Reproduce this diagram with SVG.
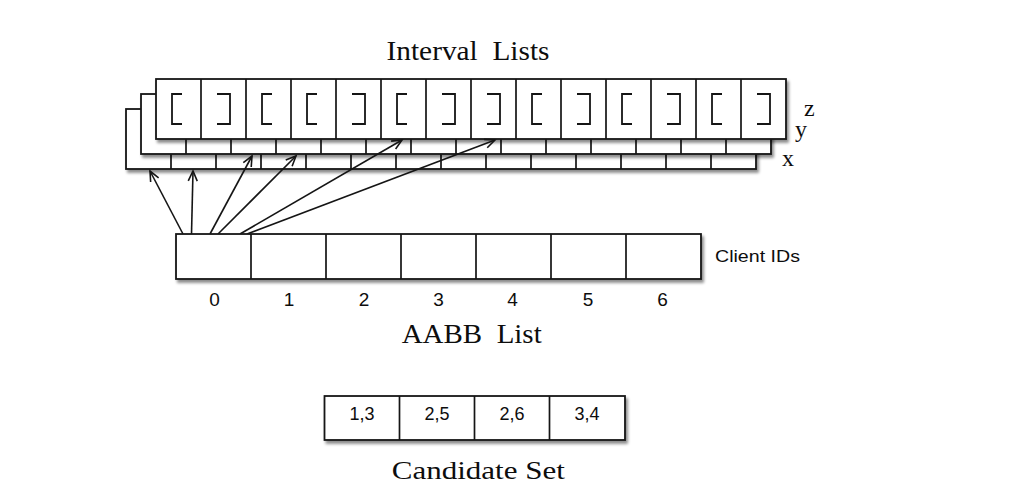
<svg xmlns="http://www.w3.org/2000/svg" width="1016" height="502" viewBox="0 0 1016 502">
<style>
.box{fill:#fff;stroke:#151515;stroke-width:1.8}
.ln{fill:none;stroke:#151515;stroke-width:1.7}
.br{fill:none;stroke:#151515;stroke-width:1.8}
.serif{font-family:"Liberation Serif","Times New Roman",serif;fill:#0d0d0d;white-space:pre}
.sans{font-family:"Liberation Sans",Arial,sans-serif;fill:#0d0d0d}
.arr{fill:none;stroke:#151515;stroke-width:1.6;marker-end:url(#ah)}
</style>
<defs>
<filter id="sh" x="-5%" y="-20%" width="115%" height="150%">
<feDropShadow dx="2" dy="3" stdDeviation="1.6" flood-color="#000" flood-opacity="0.45"/>
</filter>
<marker id="ah" markerUnits="userSpaceOnUse" markerWidth="14" markerHeight="12" viewBox="-12 -6 14 12" refX="0" refY="0" orient="auto">
<path d="M-10,-4.5 L0,0 L-10,4.5" fill="none" stroke="#151515" stroke-width="1.6"/>
</marker>
</defs>
<rect width="1016" height="502" fill="#fff"/>

<g id="interval-lists">
<text class="serif" x="468" y="59.5" font-size="26.5" text-anchor="middle" textLength="163" lengthAdjust="spacingAndGlyphs">Interval  Lists</text>
<g id="layer-x">
<rect class="box" x="126" y="109" width="630" height="60" filter="url(#sh)"/>
<path class="ln" d="M171,109V169M216,109V169M261,109V169M306,109V169M351,109V169M396,109V169M441,109V169M486,109V169M531,109V169M576,109V169M621,109V169M666,109V169M711,109V169"/>
</g>
<g id="layer-y">
<rect class="box" x="141" y="94" width="630" height="60" filter="url(#sh)"/>
<path class="ln" d="M186,94V154M231,94V154M276,94V154M321,94V154M366,94V154M411,94V154M456,94V154M501,94V154M546,94V154M591,94V154M636,94V154M681,94V154M726,94V154"/>
</g>
<g id="layer-z">
<rect class="box" x="156" y="79" width="630" height="60" filter="url(#sh)"/>
<path class="ln" d="M201,79V139M246,79V139M291,79V139M336,79V139M381,79V139M426,79V139M471,79V139M516,79V139M561,79V139M606,79V139M651,79V139M696,79V139M741,79V139"/>
<path class="br" d="
M182,94H172V124H182
M217,94H230V124H217
M272,94H262V124H272
M317,94H307V124H317
M352,94H365V124H352
M407,94H397V124H407
M442,94H455V124H442
M487,94H500V124H487
M542,94H532V124H542
M577,94H590V124H577
M632,94H622V124H632
M667,94H680V124H667
M722,94H712V124H722
M757,94H770V124H757"/>
</g>
<text class="serif" x="804" y="115.5" font-size="24">z</text>
<text class="serif" x="795" y="137" font-size="24">y</text>
<text class="serif" x="782" y="165.5" font-size="24">x</text>
</g>

<g id="connectors">
<line class="arr" x1="183" y1="234" x2="150" y2="171"/>
<line class="arr" x1="191.5" y1="234" x2="193" y2="171"/>
<line class="arr" x1="210" y1="234" x2="252" y2="156"/>
<line class="arr" x1="218" y1="234" x2="296" y2="156"/>
<line class="arr" x1="240" y1="234" x2="402" y2="140"/>
<line class="arr" x1="247" y1="234" x2="495" y2="140"/>
</g>

<g id="aabb-list">
<rect class="box" x="176" y="234" width="525" height="45" filter="url(#sh)"/>
<path class="ln" d="M251,234V279M326,234V279M401,234V279M476,234V279M551,234V279M626,234V279"/>
<text class="sans" x="715" y="261.5" font-size="16.5" textLength="85" lengthAdjust="spacingAndGlyphs">Client IDs</text>
<g class="sans" font-size="19" text-anchor="middle">
<text x="214.5" y="306">0</text>
<text x="289" y="306">1</text>
<text x="364" y="306">2</text>
<text x="438.5" y="306">3</text>
<text x="512.5" y="306">4</text>
<text x="588" y="306">5</text>
<text x="662.5" y="306">6</text>
</g>
<text class="serif" x="471.7" y="342.5" font-size="26.5" text-anchor="middle" textLength="140" lengthAdjust="spacingAndGlyphs">AABB  List</text>
</g>

<g id="candidate-set">
<rect class="box" x="324.5" y="396" width="300.5" height="44" filter="url(#sh)"/>
<path class="ln" d="M399.5,396V440M474.5,396V440M549.5,396V440"/>
<g class="sans" font-size="18" text-anchor="middle">
<text x="362" y="420">1,3</text>
<text x="437" y="420">2,5</text>
<text x="512" y="420">2,6</text>
<text x="587" y="420">3,4</text>
</g>
<text class="serif" x="478.3" y="479" font-size="26" text-anchor="middle" textLength="173" lengthAdjust="spacingAndGlyphs">Candidate Set</text>
</g>
</svg>
